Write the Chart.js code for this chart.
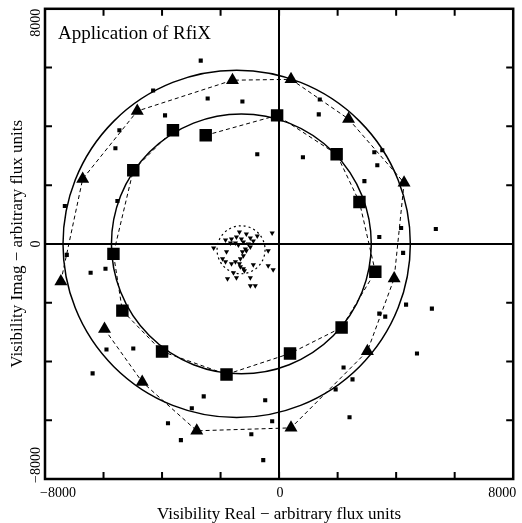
<!DOCTYPE html>
<html>
<head>
<meta charset="utf-8">
<script src="https://cdn.jsdelivr.net/npm/chart.js@4/dist/chart.umd.min.js"></script>
<style>
  body { margin: 0; background: #fff; }
  #wrap { width: 522px; height: 523px; }
</style>
</head>
<body>
<div id="wrap"><canvas id="rfix"></canvas></div>
<script>
// big squares, in the order they are joined
const squareX = [-2508, -68, 1966, 2746, 3288, 2136, 373, -1797, -4000, -5356, -5661, -4983, -3627];
const squareY = [3695, 4373, 3051, 1424, -949, -2847, -3729, -4441, -3661, -2271, -339, 2508, 3864];

// big triangles, in the order they are joined
const triX = [-5966, -4678, -2814, 407, 3017, 3932, 4271, 2373, 407, -1593, -4847, -6712, -7458];
const triY = [-2900, -4700, -6360, -6260, -3650, -1180, 2080, 4250, 5600, 5570, 4520, 2210, -1280];

// small scattered squares
const dotX = [-2678, -4305, -2441, -1254, -3898, -5458, -5594, -746, -7322, -5526, -7255,
  1390, 1356, 814, 3526, 3254, 3356, 2915, 4170, 5356, 3424, 4238,
  -6441, -5933, -5899, -4983, -6373, -2576, -2983, -3797, -3356, -949,
  4339, 5221, 3424, 3627, 4712, 2203, 2509, 1932, -475, 2407, -237, -542];
const dotY = [6238, 5221, 4949, 4848, 4373, 3865, 3254, 3051, 1288, 1458, -373,
  4916, 4407, 2949, 3187, 3119, 2678, 2136, 542, 509, 237, -305,
  -983, -848, -3593, -3560, -4407, -5187, -5594, -6102, -6678, -6475,
  -2068, -2204, -2373, -2475, -3729, -4204, -4610, -4949, -5322, -5899, -6034, -7356];

// small down-pointing triangles near the centre
const clusterX = [-237, -746, -1119, -1356, -1458, -1627, -1831, -1288, -983, -881, -1220, -1492, -1661,
  -1051, -1390, -2237, -983, -1153, -1254, -1119, -373, -1797, -1220, -1932, -1831, -1492, -1322,
  -1356, -1627, -1322, -1220, -881, -373, -203, -1559, -1186, -1763, -1458, -983, -983, -814];
const clusterY = [373, 271, 339, 407, 237, 170, 136, 170, 203, 102, 68, 34, 34,
  0, -34, -136, -102, -170, -271, -237, -237, -271, -407, -509, -610, -610, -509,
  -678, -678, -780, -848, -712, -746, -881, -983, -915, -1186, -1153, -1153, -1424, -1424];

// fitted circles: centre x, centre y, radius
const circleX = [-1450, -1290, -1300];
const circleY = [0, 0, -200];
const circleR = [5935, 4440, 820];
const circleDash = [[], [], [2, 3]];

const tickValues = [-8000, 0, 8000];

const pts = (xs, ys) => xs.map((x, i) => ({ x: x, y: ys[i] }));
const serif = 'Liberation Serif';

const decor = {
  id: 'decor',
  beforeDatasetsDraw(chart) {
    const { ctx, chartArea: a, scales: { x, y } } = chart;
    ctx.save();
    ctx.beginPath();
    ctx.rect(a.left, a.top, a.right - a.left, a.bottom - a.top);
    ctx.clip();
    ctx.strokeStyle = '#000';
    for (let i = 0; i < circleX.length; i++) {
      const cx = x.getPixelForValue(circleX[i]);
      const cy = y.getPixelForValue(circleY[i]);
      const r = x.getPixelForValue(circleX[i] + circleR[i]) - cx;
      ctx.lineWidth = circleDash[i].length ? 1.2 : 1.5;
      ctx.setLineDash(circleDash[i]);
      ctx.beginPath();
      ctx.arc(cx, cy, r, 0, Math.PI * 2);
      ctx.stroke();
    }
    ctx.restore();
  },
  afterDraw(chart) {
    const { ctx, chartArea: a, scales: { x, y } } = chart;
    ctx.save();
    ctx.strokeStyle = '#000';
    ctx.fillStyle = '#000';
    // inward tick marks every 2000
    ctx.lineWidth = 2;
    ctx.beginPath();
    for (let v = -6000; v <= 6000; v += 2000) {
      const px = x.getPixelForValue(v);
      const py = y.getPixelForValue(v);
      ctx.moveTo(px, a.top); ctx.lineTo(px, a.top + 7);
      ctx.moveTo(px, a.bottom); ctx.lineTo(px, a.bottom - 7);
      ctx.moveTo(a.left, py); ctx.lineTo(a.left + 7, py);
      ctx.moveTo(a.right, py); ctx.lineTo(a.right - 7, py);
    }
    ctx.stroke();
    // frame
    ctx.lineWidth = 2.5;
    ctx.strokeRect(a.left, a.top, a.right - a.left, a.bottom - a.top);

    // tick labels
    ctx.font = '14px "' + serif + '"';
    ctx.textBaseline = 'middle';
    tickValues.forEach((v, i) => {
      const label = v < 0 ? '\u2212' + Math.abs(v) : String(v);
      const px = x.getPixelForValue(v);
      if (i === 0) { ctx.textAlign = 'left'; ctx.fillText(label, px - 5, a.bottom + 14); }
      else if (i === tickValues.length - 1) { ctx.textAlign = 'right'; ctx.fillText(label, px + 3, a.bottom + 14); }
      else { ctx.textAlign = 'center'; ctx.fillText(label, px + 1, a.bottom + 14); }

      const py = y.getPixelForValue(v);
      ctx.save();
      ctx.translate(a.left - 9, py);
      ctx.rotate(-Math.PI / 2);
      if (i === 0) { ctx.textAlign = 'left'; ctx.fillText(label, -4, 0); }
      else if (i === tickValues.length - 1) { ctx.textAlign = 'right'; ctx.fillText(label, 0, 0); }
      else { ctx.textAlign = 'center'; ctx.fillText(label, 0, 0); }
      ctx.restore();
    });

    // caption inside the plot
    ctx.font = '19px "' + serif + '"';
    ctx.textAlign = 'left';
    ctx.textBaseline = 'alphabetic';
    ctx.fillText('Application of RfiX', a.left + 13, a.top + 30);
    ctx.restore();
  }
};

const zeroGrid = {
  drawTicks: false,
  lineWidth: 2,
  color: c => (c.tick && c.tick.value === 0 ? '#000' : 'rgba(0,0,0,0)')
};

new Chart(document.getElementById('rfix'), {
  type: 'scatter',
  data: {
    datasets: [
      {
        data: pts(squareX, squareY),
        showLine: true,
        borderColor: '#000',
        borderWidth: 1,
        borderDash: [4, 3],
        pointStyle: 'rect',
        pointRadius: 8.8,
        pointBackgroundColor: '#000',
        pointBorderWidth: 0
      },
      {
        data: pts(triX, triY),
        showLine: true,
        borderColor: '#000',
        borderWidth: 1,
        borderDash: [4, 3],
        pointStyle: 'triangle',
        pointRadius: 7.5,
        pointBackgroundColor: '#000',
        pointBorderWidth: 0
      },
      {
        data: pts(dotX, dotY),
        pointStyle: 'rect',
        pointRadius: 2.9,
        pointBackgroundColor: '#000',
        pointBorderWidth: 0
      },
      {
        data: pts(clusterX, clusterY),
        pointStyle: 'triangle',
        pointRotation: 180,
        pointRadius: 3,
        pointBackgroundColor: '#000',
        pointBorderWidth: 0
      }
    ]
  },
  options: {
    responsive: true,
    maintainAspectRatio: false,
    animation: false,
    events: [],
    layout: { padding: { top: 7, right: 5, left: 0, bottom: 0 } },
    plugins: { legend: { display: false }, tooltip: { enabled: false } },
    scales: {
      x: {
        type: 'linear',
        min: -8000, max: 8000,
        ticks: { stepSize: 2000, display: false },
        grid: zeroGrid,
        border: { display: false },
        title: {
          display: true,
          text: 'Visibility Real \u2212 arbitrary flux units',
          color: '#000',
          font: { family: serif, size: 17, lineHeight: 1 },
          padding: { top: 0, bottom: 0 }
        },
        afterFit: s => { s.height = 44; }
      },
      y: {
        type: 'linear',
        min: -8000, max: 8000,
        ticks: { stepSize: 2000, display: false },
        grid: zeroGrid,
        border: { display: false },
        title: {
          display: true,
          text: 'Visibility Imag \u2212 arbitrary flux units',
          color: '#000',
          font: { family: serif, size: 17, lineHeight: 1 },
          padding: { top: 9, bottom: 0 }
        },
        afterFit: s => { s.width = 45; }
      }
    }
  },
  plugins: [decor]
});
</script>
</body>
</html>
